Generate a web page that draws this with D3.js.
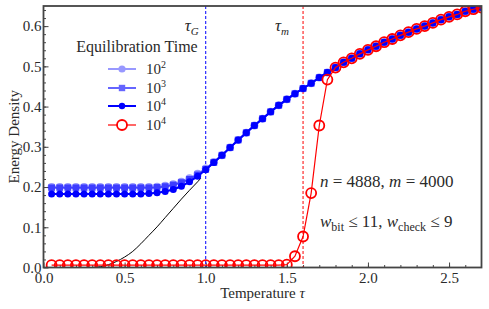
<!DOCTYPE html>
<html>
<head>
<meta charset="utf-8">
<script src="https://cdn.jsdelivr.net/npm/d3@7"></script>
<style>
  body { margin: 0; background: #fff; }
  text { font-family: "Liberation Serif", "DejaVu Serif", serif; fill: #2a2a2a; }
</style>
</head>
<body>
<svg class="chart"></svg>
<script>
// DATA /////////////////////////////////////////
const temps = [
  0.05, 0.1, 0.15, 0.2, 0.25, 0.3, 0.35, 0.4, 0.45, 0.5,
  0.55, 0.6, 0.65, 0.7, 0.75, 0.8, 0.85, 0.9, 0.95, 1.0,
  1.05, 1.1, 1.15, 1.2, 1.25, 1.3, 1.35, 1.4, 1.45, 1.5,
  1.55, 1.6, 1.65, 1.7, 1.75, 1.8, 1.85, 1.9, 1.95, 2.0,
  2.05, 2.1, 2.15, 2.2, 2.25, 2.3, 2.35, 2.4, 2.45, 2.5,
  2.55, 2.6, 2.65, 2.7,
];

const energy1e2 = [
  0.2, 0.2, 0.2, 0.2, 0.2, 0.2, 0.2, 0.2, 0.2, 0.2,
  0.2, 0.2, 0.2, 0.201, 0.203, 0.207, 0.213, 0.222, 0.233, 0.246,
  0.262, 0.279, 0.298, 0.317, 0.335, 0.353, 0.37, 0.387, 0.403, 0.418,
  0.432, 0.445, 0.458, 0.472, 0.485, 0.497, 0.51, 0.52, 0.531, 0.541,
  0.55, 0.56, 0.568, 0.577, 0.585, 0.593, 0.6, 0.608, 0.616, 0.623,
  0.629, 0.637, 0.642, 0.646,
];

const energy1e3 = [
  0.198, 0.198, 0.198, 0.198, 0.198, 0.198, 0.198, 0.198, 0.198, 0.198,
  0.198, 0.198, 0.198, 0.199, 0.201, 0.205, 0.211, 0.219, 0.23, 0.244,
  0.261, 0.279, 0.298, 0.317, 0.335, 0.353, 0.37, 0.387, 0.403, 0.418,
  0.432, 0.445, 0.458, 0.472, 0.485, 0.497, 0.51, 0.52, 0.531, 0.541,
  0.55, 0.56, 0.568, 0.577, 0.585, 0.593, 0.6, 0.608, 0.616, 0.623,
  0.629, 0.637, 0.642, 0.646,
];

const energy1e4 = [
  0.183, 0.183, 0.183, 0.183, 0.183, 0.183, 0.183, 0.183, 0.183, 0.183,
  0.183, 0.183, 0.184, 0.186, 0.189, 0.194, 0.202, 0.213, 0.227, 0.243,
  0.261, 0.279, 0.298, 0.317, 0.335, 0.353, 0.37, 0.387, 0.403, 0.418,
  0.432, 0.445, 0.458, 0.472, 0.485, 0.497, 0.51, 0.52, 0.531, 0.541,
  0.55, 0.56, 0.568, 0.577, 0.585, 0.593, 0.6, 0.608, 0.616, 0.623,
  0.629, 0.637, 0.642, 0.646,
];

// red open circles
const energyRed = [
  0.006, 0.006, 0.006, 0.006, 0.006, 0.006, 0.006, 0.006, 0.006, 0.006,
  0.006, 0.006, 0.006, 0.006, 0.006, 0.006, 0.006, 0.006, 0.006, 0.006,
  0.006, 0.006, 0.006, 0.006, 0.006, 0.006, 0.006, 0.006, 0.006, 0.007,
  0.028, 0.077, 0.185, 0.353, 0.467, 0.497, 0.51, 0.52, 0.531, 0.541,
  0.55, 0.56, 0.568, 0.577, 0.585, 0.593, 0.6, 0.608, 0.616, 0.623,
  0.629, 0.637, 0.642, 0.646,
];

// black thin curve
const blackTemps = [0.3, 0.35, 0.4, 0.45, 0.5, 0.55, 0.6, 0.65, 0.7, 0.75, 0.8, 0.85, 0.9, 0.95, 0.97];
const blackEnergy = [0.0, 0.002, 0.007, 0.015, 0.026, 0.04, 0.059, 0.08, 0.101, 0.124, 0.147, 0.17, 0.192, 0.213, 0.222];

const xTicks = [0, 0.5, 1.0, 1.5, 2.0, 2.5];
const yTicks = [0, 0.1, 0.2, 0.3, 0.4, 0.5, 0.6];
const tauG = 1.0;
const tauM = 1.6;
const legendLabels = ["2", "3", "4", "4"];

// DEFINITIONS /////////////////////////////////
const W = 489;
const H = 309;
const margin = { top: 6, bottom: 41.5, right: 7.5, left: 43.5 };
const width = W - margin.left - margin.right;
const height = H - margin.top - margin.bottom;

const svg = d3.select(".chart").attr("width", W).attr("height", H);
const chart = svg.append("g").attr("transform", `translate(${margin.left}, ${margin.top})`);

const x = d3.scaleLinear().domain([0, 2.7]).range([0, width]);
const y = d3.scaleLinear().domain([0, 0.65]).range([height, 0]);

svg.append("defs").append("clipPath").attr("id", "clip")
  .append("rect").attr("width", width).attr("height", height);

// AXES ///////////////////////////////////////
chart.append("g").attr("transform", `translate(0, ${height})`)
  .call(d3.axisBottom(x).tickValues(xTicks).tickSize(-5).tickPadding(5).tickFormat(d3.format(".1f")));
chart.append("g").attr("transform", `translate(0, ${height})`)
  .call(d3.axisBottom(x).tickValues(d3.range(0.1, 2.7, 0.1)).tickSize(-2.5).tickFormat(""));
chart.append("g")
  .call(d3.axisLeft(y).tickValues(yTicks).tickSize(-5).tickPadding(2).tickFormat(d3.format(".1f")));
chart.append("g")
  .call(d3.axisLeft(y).tickValues(d3.range(0.02, 0.65, 0.02)).tickSize(-2.5).tickFormat(""));

chart.selectAll(".domain").remove();
chart.selectAll(".tick line").attr("stroke", "#444").attr("stroke-width", 1);
chart.selectAll(".tick text").style("font-size", "15px").style("font-family", "Liberation Serif").attr("fill", "#2a2a2a");

// vertical markers
[[tauG, "blue"], [tauM, "red"]].forEach(([t, c]) => {
  chart.append("line")
    .attr("x1", x(t)).attr("x2", x(t)).attr("y1", 0).attr("y2", height)
    .attr("stroke", c).attr("stroke-width", 1).attr("stroke-dasharray", "3,2");
});

// LINES + MARKERS /////////////////////////////
const plot = chart.append("g").attr("clip-path", "url(#clip)");
const line = d3.line().x((d) => x(d[0])).y((d) => y(d[1]));

plot.append("path")
  .datum(blackTemps.map((t, i) => [t, blackEnergy[i]]))
  .attr("d", line.curve(d3.curveMonotoneX))
  .attr("fill", "none").attr("stroke", "#000").attr("stroke-width", 1);
line.curve(d3.curveLinear);

const series = [
  { vals: energy1e2, op: 0.4, shape: "circle", r: 4 },
  { vals: energy1e3, op: 0.6, shape: "square", r: 3.4 },
  { vals: energy1e4, op: 1, shape: "circle", r: 3.5 },
];

const drawMarker = (g, shape, r) => {
  if (shape === "square") {
    g.append("rect").attr("x", -r).attr("y", -r).attr("width", 2 * r).attr("height", 2 * r);
  } else {
    g.append("circle").attr("r", r);
  }
};

series.forEach((s) => {
  const pts = temps.map((t, i) => [t, s.vals[i]]);
  const g = plot.append("g").attr("opacity", s.op);
  g.append("path").datum(pts).attr("d", line)
    .attr("fill", "none").attr("stroke", "blue").attr("stroke-width", 2);
  g.selectAll(".m").data(pts).enter().append("g")
    .attr("transform", (d) => `translate(${x(d[0])}, ${y(d[1])})`)
    .attr("fill", "blue")
    .each(function () { drawMarker(d3.select(this), s.shape, s.r); });
});

const redPts = temps.map((t, i) => [t, energyRed[i]]);
plot.append("path").datum(redPts).attr("d", line)
  .attr("fill", "none").attr("stroke", "red").attr("stroke-width", 1.2);
plot.selectAll(".red").data(redPts).enter().append("circle")
  .attr("cx", (d) => x(d[0])).attr("cy", (d) => y(d[1])).attr("r", 5)
  .attr("fill", "none").attr("stroke", "red").attr("stroke-width", 1.8);

// frame
chart.append("rect").attr("width", width).attr("height", height)
  .attr("fill", "none").attr("stroke", "#444").attr("stroke-width", 1.8);

// LABELS //////////////////////////////////////
svg.append("text")
  .attr("transform", `translate(19, ${margin.top + height / 2}) rotate(-90)`)
  .attr("text-anchor", "middle").style("font-size", "15px").text("Energy Density");

const xl = svg.append("text").attr("x", margin.left + width / 2).attr("y", 298)
  .attr("text-anchor", "middle").style("font-size", "15px");
xl.append("tspan").text("Temperature ");
xl.append("tspan").style("font-style", "italic").text("τ");

const tauLabel = (t, sub, dx) => {
  const tl = chart.append("text").attr("x", x(t) + dx).attr("y", 25)
    .attr("text-anchor", "end").style("font-size", "17px").style("font-style", "italic");
  tl.append("tspan").text("τ");
  tl.append("tspan").attr("dy", 4).style("font-size", "11px").text(sub);
};
tauLabel(tauG, "G", -7);
tauLabel(tauM, "m", -14);

// legend
const legend = chart.append("g").attr("transform", `translate(${137 - margin.left}, 0)`);
legend.append("text").attr("y", 52 - margin.top).attr("text-anchor", "middle")
  .style("font-size", "16px").text("Equilibration Time");
const legendRows = [69, 88, 106, 125];
const legendStyle = [
  { color: "blue", op: 0.4, shape: "circle", r: 3.6 },
  { color: "blue", op: 0.6, shape: "square", r: 3.2 },
  { color: "blue", op: 1, shape: "circle", r: 3.2 },
  { color: "red", op: 1, shape: "open", r: 5 },
];
legendStyle.forEach((s, i) => {
  const row = legend.append("g").attr("transform", `translate(0, ${legendRows[i] - margin.top})`);
  const g = row.append("g").attr("opacity", s.op);
  g.append("line").attr("x1", -29).attr("x2", -1)
    .attr("stroke", s.color).attr("stroke-width", s.color === "red" ? 1.2 : 2);
  const m = g.append("g").attr("transform", "translate(-15, 0)");
  if (s.shape === "open") {
    m.append("circle").attr("r", s.r).attr("fill", "#fff").attr("stroke", "red").attr("stroke-width", 1.8);
  } else {
    m.attr("fill", s.color);
    drawMarker(m, s.shape, s.r);
  }
  const t = row.append("text").attr("x", 9).attr("y", 5).style("font-size", "15px");
  t.append("tspan").text("10");
  t.append("tspan").attr("dy", -6).style("font-size", "10px").text(legendLabels[i]);
});

// annotations
const ann1 = chart.append("text").attr("x", 320 - margin.left).attr("y", 187 - margin.top)
  .style("font-size", "17px");
ann1.append("tspan").style("font-style", "italic").text("n");
ann1.append("tspan").text(" = 4888, ");
ann1.append("tspan").style("font-style", "italic").text("m");
ann1.append("tspan").text(" = 4000");

const ann2 = chart.append("text").attr("x", 320 - margin.left).attr("y", 227 - margin.top)
  .style("font-size", "17px");
ann2.append("tspan").style("font-style", "italic").text("w");
ann2.append("tspan").attr("dy", 4).style("font-size", "12px").text("bit");
ann2.append("tspan").attr("dy", -4).text(" ≤ 11, ");
ann2.append("tspan").style("font-style", "italic").text("w");
ann2.append("tspan").attr("dy", 4).style("font-size", "12px").text("check");
ann2.append("tspan").attr("dy", -4).text(" ≤ 9");
</script>
</body>
</html>
